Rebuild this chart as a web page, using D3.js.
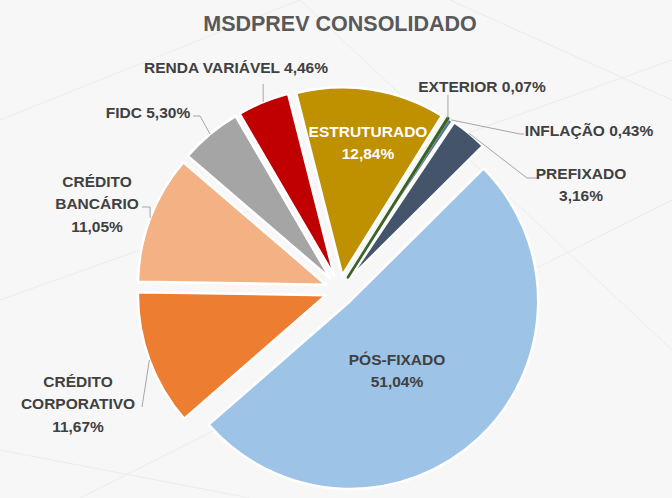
<!DOCTYPE html>
<html><head><meta charset="utf-8">
<script src="https://cdn.jsdelivr.net/npm/d3@7"></script>
<style>html,body{margin:0;padding:0;background:#f7f7f7;}svg{display:block;}</style>
</head><body>
<svg id="chart" width="672" height="498"></svg>
<script>
const title = "MSDPREV CONSOLIDADO";
const categories = ["EXTERIOR","INFLAÇÃO","PREFIXADO","PÓS-FIXADO","CRÉDITO CORPORATIVO","CRÉDITO BANCÁRIO","FIDC","RENDA VARIÁVEL","ESTRUTURADO"];
const values = [0.07,0.43,3.16,51.04,11.67,11.05,5.30,4.46,12.84];
const colors = ["#3b6422","#52739f","#44546a","#9dc3e6","#ed7d31","#f4b183","#a5a5a5","#c00000","#bf9000"];

// label layout: lines (with {v} placeholder), center x, first line center y, leader path points, text color
const labelLayout = [
  {lines:["EXTERIOR {v}"], x:482, y:86, leader:[[null,95]]},
  {lines:["INFLAÇÃO {v}"], x:589, y:130, leader:[[520,134],[524,134]]},
  {lines:["PREFIXADO","{v}"], x:581, y:173, leader:[[527,178],[537,178]]},
  {lines:["PÓS-FIXADO","{v}"], x:397, y:359, inside:true, color:"#404040"},
  {lines:["CRÉDITO","CORPORATIVO","{v}"], x:78, y:381, leader:[[142,407]]},
  {lines:["CRÉDITO","BANCÁRIO","{v}"], x:97, y:181, leader:[[150,207],[142,207]]},
  {lines:["FIDC {v}"], x:148, y:112, leader:[[200,116],[193,116]]},
  {lines:["RENDA VARIÁVEL {v}"], x:236, y:67, leader:[[null,84]]},
  {lines:["ESTRUTURADO","{v}"], x:368, y:131, inside:true, color:"#ffffff"}
];

const svg = d3.select("#chart");
const W = 672, H = 498;
const cx = 340, cy = 290, R = 188, explode = 15;
const fmt = v => d3.format(".2f")(v).replace(".", ",") + "%";

svg.append("rect").attr("width", W).attr("height", H).attr("fill", "#f7f7f7");
// faint background lines
const bg = svg.append("g").attr("stroke", "#ececec").attr("stroke-width", 1).attr("fill","none");
[[0,120,300,0],[0,300,672,60],[80,498,672,200],[300,0,672,350],[0,450,250,498],[450,0,672,100]].forEach(l=>{
  bg.append("line").attr("x1",l[0]).attr("y1",l[1]).attr("x2",l[2]).attr("y2",l[3]);
});

svg.append("text").attr("x", 340).attr("y", 31).attr("text-anchor","middle")
  .attr("font-family","'Liberation Sans', Arial, sans-serif").attr("font-weight","bold")
  .attr("font-size", 21.5).attr("fill","#595959").text(title);

const start = 32 * Math.PI / 180;
const pie = d3.pie().sort(null).value(d => d).startAngle(start).endAngle(start + 2*Math.PI);
const arcs = pie(values);
const arc = d3.arc().innerRadius(0).outerRadius(R);

const g = svg.append("g").attr("transform", `translate(${cx},${cy})`);
function offset(a, r) {
  const m = (a.startAngle + a.endAngle) / 2;
  return [Math.sin(m) * r, -Math.cos(m) * r];
}
const thin = d => (d.endAngle - d.startAngle) < 0.02;
// draw wide slices first, very thin slices last so they stay visible
const ordered = arcs.map((a,i)=>({a,i})).sort((p,q)=> (thin(p.a)?1:0) - (thin(q.a)?1:0));
g.selectAll("path").data(ordered).join("path")
  .attr("d", d => arc(d.a))
  .attr("transform", d => { const o = offset(d.a, explode); return `translate(${o[0]},${o[1]})`; })
  .attr("fill", d => colors[d.i])
  .attr("stroke", d => thin(d.a) ? colors[d.i] : "#ffffff")
  .attr("stroke-width", d => thin(d.a) ? 2.6 : 2.5)
  .attr("stroke-linejoin","round");

// leaders
const lineGen = d3.line();
arcs.forEach((a, i) => {
  const L = labelLayout[i];
  if (!L.leader) return;
  const o = offset(a, explode + R);
  const p0 = [cx + o[0], cy + o[1]];
  const pts = [p0].concat(L.leader.map(p => [p[0] === null ? p0[0] : p[0], p[1]]));
  svg.append("path").attr("d", lineGen(pts)).attr("fill","none")
    .attr("stroke","#a6a6a6").attr("stroke-width",1);
});

// labels
arcs.forEach((a, i) => {
  const L = labelLayout[i];
  const t = svg.append("text").attr("text-anchor","middle")
    .attr("font-family","'Liberation Sans', Arial, sans-serif").attr("font-weight","bold")
    .attr("font-size", 15.5).attr("fill", L.color || "#404040");
  L.lines.forEach((ln, k) => {
    t.append("tspan").attr("x", L.x).attr("y", L.y + k * 22.5 + 5.6)
      .text(ln.replace("{v}", fmt(values[i])));
  });
});
</script>
</body></html>
